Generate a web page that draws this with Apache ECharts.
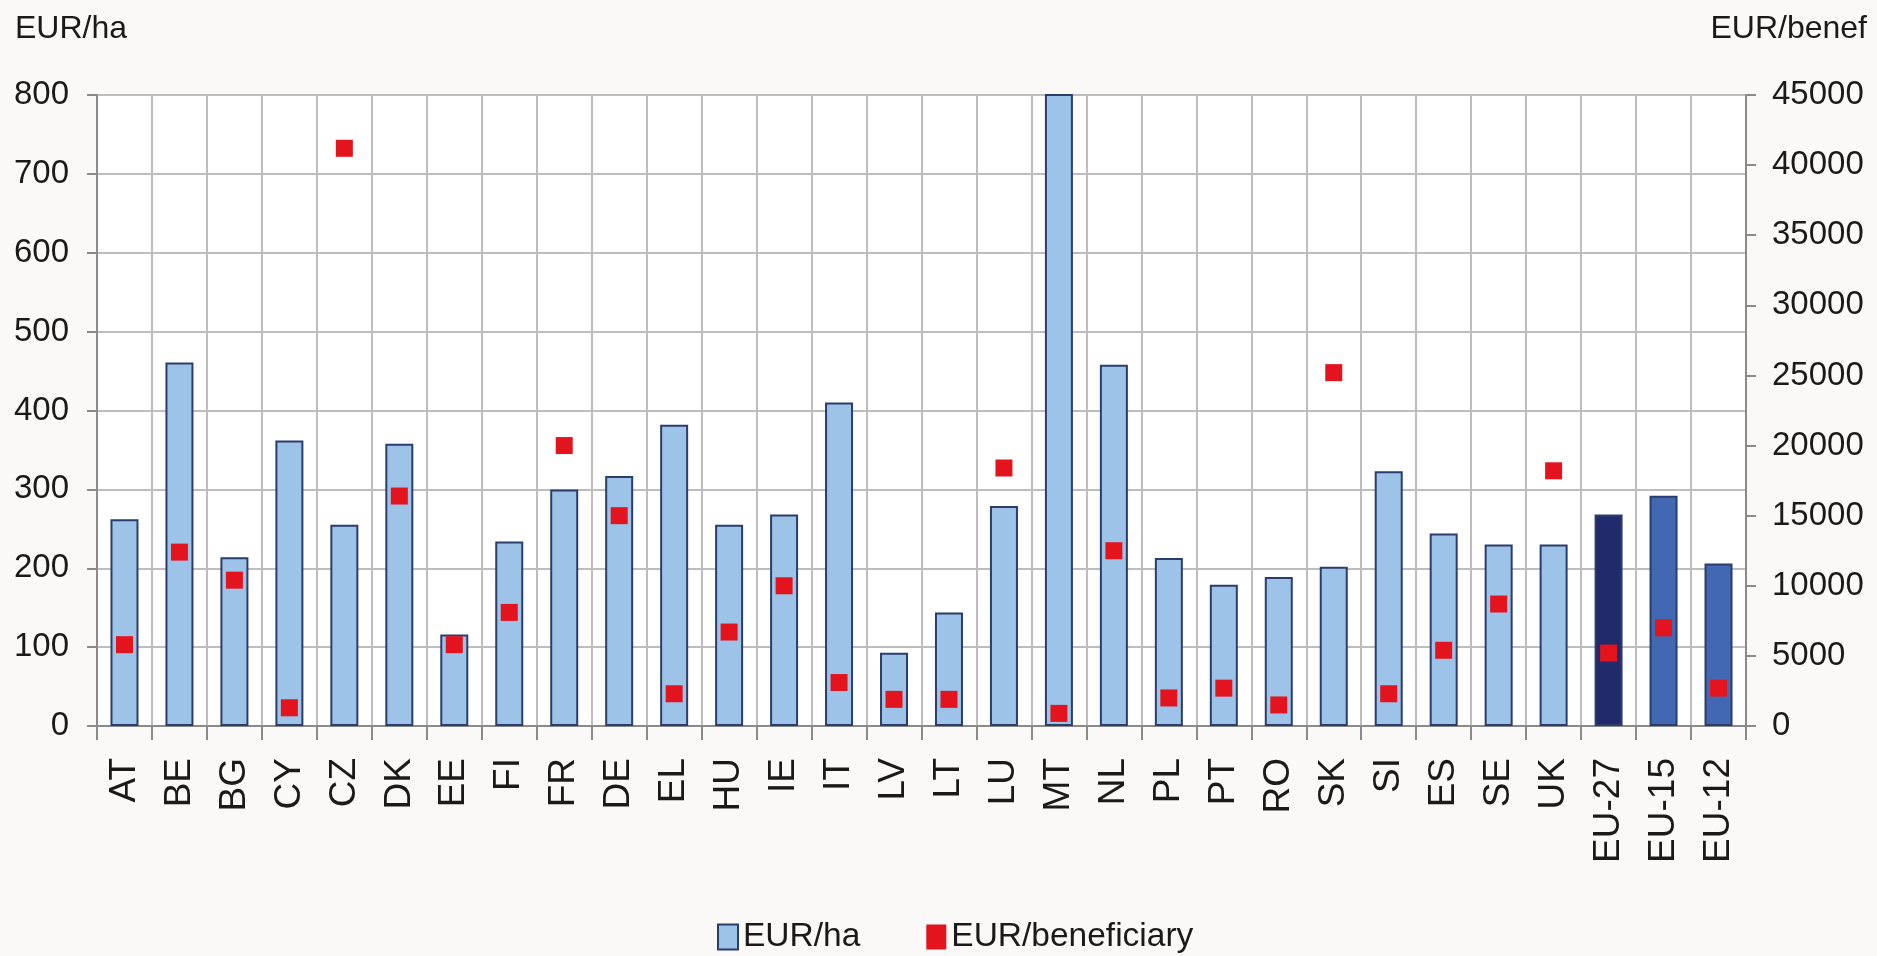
<!DOCTYPE html>
<html>
<head>
<meta charset="utf-8">
<script src="https://cdn.jsdelivr.net/npm/echarts@6/dist/echarts.min.js"></script>
<style>
html,body{margin:0;padding:0;background:#FAF9F7;}
#c{width:1877px;height:956px;}
</style>
</head>
<body>
<div id="c"></div>
<script>
const categories = ['AT','BE','BG','CY','CZ','DK','EE','FI','FR','DE','EL','HU','IE','IT','LV','LT','LU','MT','NL','PL','PT','RO','SK','SI','ES','SE','UK','EU-27','EU-15','EU-12'];
const eurPerHa = [262,461,214,362,255,358,116,234,300,317,382,255,268,410,93,144,279,802,458,213,179,189,202,323,244,230,230,268,292,206];
const eurPerBeneficiary = [5800,12400,10400,1300,41200,16400,5800,8100,20000,15000,2300,6700,10000,3100,1900,1900,18400,900,12500,2000,2700,1500,25200,2300,5400,8700,18200,5200,7000,2700];
const barColors = {'EU-27':'#222A6E','EU-15':'#4268B3','EU-12':'#4268B3'};

const FONT = "'Liberation Sans', Arial, sans-serif";
const chart = echarts.init(document.getElementById('c'), null, {renderer:'canvas'});

chart.setOption({
  backgroundColor:'#FAF9F7',
  animation:false,
  textStyle:{fontFamily:FONT,color:'#1a1a1a'},
  grid:{left:97,right:131,top:95,bottom:230,show:true,backgroundColor:'#ffffff',borderWidth:0,containLabel:false},
  legend:{
    top:915,left:712,itemGap:66,itemWidth:20,itemHeight:25,
    textStyle:{fontFamily:FONT,fontSize:33.5,color:'#1a1a1a'},
    data:[
      {name:'EUR/ha',icon:'rect',itemStyle:{color:'#9DC3E8',borderColor:'#2B3D6B',borderWidth:2}},
      {name:'EUR/beneficiary',icon:'rect',itemStyle:{color:'#E3141E',borderWidth:0}}
    ]
  },
  xAxis:{
    type:'category',data:categories,boundaryGap:true,
    axisLine:{show:true,lineStyle:{color:'#8A8A8A',width:2}},
    axisTick:{show:true,length:14,interval:0,lineStyle:{color:'#8A8A8A',width:2}},
    splitLine:{show:true,interval:0,lineStyle:{color:'#BDBDBD',width:2}},
    axisLabel:{rotate:90,interval:0,margin:32,fontSize:37,fontFamily:FONT,color:'#1a1a1a'}
  },
  yAxis:[
    {
      type:'value',min:0,max:800,interval:100,position:'left',
      name:'EUR/ha',nameLocation:'end',nameGap:66,
      nameTextStyle:{fontSize:32,fontFamily:FONT,color:'#1a1a1a',align:'left',verticalAlign:'middle',padding:[0,0,0,-82]},
      axisLine:{show:true,lineStyle:{color:'#8A8A8A',width:2}},
      axisTick:{show:true,length:10,lineStyle:{color:'#8A8A8A',width:2}},
      splitLine:{show:true,lineStyle:{color:'#BDBDBD',width:2}},
      axisLabel:{margin:28,fontSize:33,fontFamily:FONT,color:'#1a1a1a'}
    },
    {
      type:'value',min:0,max:45000,interval:5000,position:'right',
      name:'EUR/benef',nameLocation:'end',nameGap:66,
      nameTextStyle:{fontSize:32,fontFamily:FONT,color:'#1a1a1a',align:'right',verticalAlign:'middle',padding:[0,-121,0,0]},
      axisLine:{show:true,lineStyle:{color:'#8A8A8A',width:2}},
      axisTick:{show:true,length:10,lineStyle:{color:'#8A8A8A',width:2}},
      splitLine:{show:false},
      axisLabel:{margin:26,fontSize:33,fontFamily:FONT,color:'#1a1a1a',formatter:(v)=>String(v)}
    }
  ],
  series:[
    {
      name:'EUR/ha',type:'bar',yAxisIndex:0,barWidth:28,
      data:eurPerHa.map((v,i)=>({
        value:v,
        itemStyle:{color:barColors[categories[i]]||'#9DC3E8',borderColor:'#2B3D6B',borderWidth:2}
      })),
      itemStyle:{color:'#9DC3E8',borderColor:'#2B3D6B',borderWidth:2}
    },
    {
      name:'EUR/beneficiary',type:'scatter',yAxisIndex:1,symbol:'rect',symbolSize:17,
      itemStyle:{color:'#E3141E',opacity:1},
      z:5,
      data:eurPerBeneficiary
    }
  ]
});
</script>
</body>
</html>
